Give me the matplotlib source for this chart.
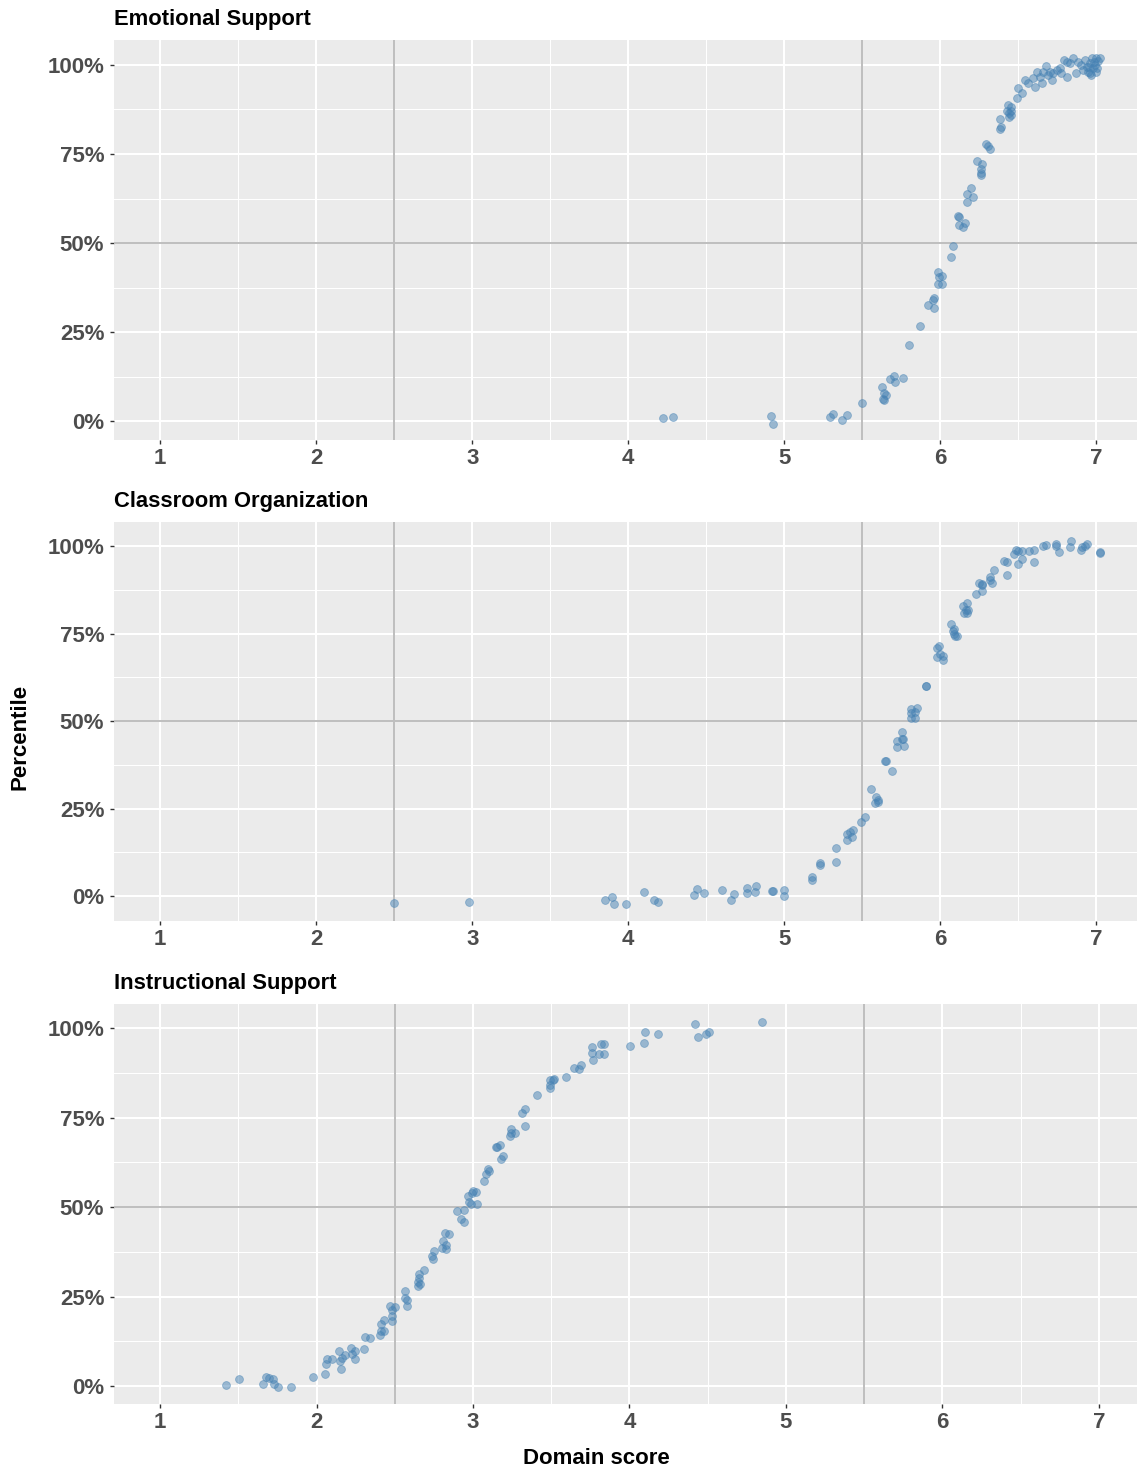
import matplotlib
matplotlib.use("Agg")
import matplotlib.pyplot as plt
import numpy as np
from matplotlib.ticker import FixedLocator, FuncFormatter

plt.rcParams['font.family'] = ['Liberation Sans', 'DejaVu Sans']

# Domain names
domains = ["Emotional Support", "Classroom Organization", "Instructional Support"]

# Emotional Support: domain score vs percentile
es_x = [4.225, 4.285, 4.914, 4.925, 5.29, 5.31, 5.37, 5.40, 5.50, 5.623, 5.64, 5.65,
        5.634, 5.638, 5.68, 5.70, 5.71, 5.76, 5.80, 5.87, 5.92, 5.95, 5.96, 5.96,
        5.987, 5.99, 6.01, 5.987, 6.01, 6.07, 6.08, 6.115, 6.12, 6.12, 6.155, 6.145,
        6.195, 6.17, 6.212, 6.173, 6.237, 6.26, 6.26, 6.258, 6.27, 6.293, 6.308, 6.318,
        6.38, 6.387, 6.38, 6.435, 6.45, 6.43, 6.44, 6.45, 6.443, 6.455,
        6.49, 6.50, 6.52, 6.543, 6.564, 6.596, 6.606, 6.617, 6.638, 6.65, 6.66, 6.68,
        6.69, 6.70, 6.713, 6.72, 6.745, 6.766, 6.77, 6.79, 6.81, 6.81, 6.83, 6.85,
        6.87, 6.88, 6.904, 6.915, 6.93, 6.94, 6.947, 6.957, 6.96, 6.974, 6.98, 6.99,
        7.0, 7.01, 7.02, 6.996, 6.968, 6.955, 6.985, 7.005]
es_y = [0.009, 0.011, 0.014, -0.007, 0.011, 0.020, 0.004, 0.017, 0.052, 0.095, 0.078, 0.073,
        0.061, 0.059, 0.117, 0.128, 0.111, 0.121, 0.214, 0.266, 0.325, 0.341, 0.345, 0.318,
        0.419, 0.404, 0.408, 0.385, 0.385, 0.462, 0.493, 0.575, 0.573, 0.552, 0.557, 0.546,
        0.655, 0.638, 0.629, 0.614, 0.731, 0.709, 0.697, 0.692, 0.721, 0.777, 0.772, 0.764,
        0.847, 0.826, 0.819, 0.887, 0.883, 0.870, 0.864, 0.870, 0.854, 0.859,
        0.906, 0.934, 0.920, 0.958, 0.950, 0.963, 0.939, 0.981, 0.965, 0.949, 0.981, 0.997,
        0.972, 0.981, 0.958, 0.977, 0.986, 0.991, 0.977, 1.014, 1.009, 0.967, 1.005, 1.019,
        0.977, 1.009, 1.000, 0.986, 1.014, 0.995, 0.981, 0.977, 1.005, 1.019, 0.991, 1.000,
        1.019, 1.012, 1.019, 0.981, 0.972, 0.995, 1.008, 0.990]

# Classroom Organization: domain score vs percentile
co_x = [2.50, 2.98, 3.85, 3.897, 3.91, 3.985, 4.10, 4.167, 4.19, 4.42, 4.44, 4.485,
        4.60, 4.66, 4.68, 4.76, 4.76, 4.81, 4.82, 4.92, 4.925, 4.996, 4.998,
        5.18, 5.18, 5.227, 5.23, 5.33, 5.33, 5.40, 5.40, 5.42, 5.435, 5.44, 5.49, 5.52,
        5.557, 5.58, 5.59, 5.60, 5.60, 5.645, 5.65, 5.687, 5.72, 5.72, 5.755, 5.757,
        5.76, 5.77, 5.81, 5.81, 5.81, 5.84, 5.84, 5.85, 5.91, 5.91, 5.98, 5.99,
        5.98, 6.00, 6.02, 6.02, 6.07, 6.08, 6.085, 6.094, 6.105, 6.09, 6.147, 6.17,
        6.166, 6.15, 6.17, 6.18, 6.23, 6.25, 6.265, 6.265, 6.27, 6.32, 6.32, 6.33,
        6.345, 6.41, 6.426, 6.43, 6.47, 6.486, 6.50, 6.52, 6.50, 6.52, 6.57, 6.60,
        6.60, 6.66, 6.68, 6.74, 6.74, 6.76, 6.83, 6.84, 6.90, 6.91, 6.93, 6.94,
        7.02, 7.02]
co_y = [-0.020, -0.018, -0.010, -0.002, -0.021, -0.023, 0.012, -0.012, -0.018, 0.003, 0.021, 0.009,
        0.018, -0.011, 0.006, 0.023, 0.008, 0.013, 0.029, 0.015, 0.016, 0.019, 0.000,
        0.056, 0.045, 0.095, 0.089, 0.098, 0.137, 0.178, 0.161, 0.182, 0.168, 0.189, 0.213, 0.227,
        0.306, 0.265, 0.284, 0.275, 0.270, 0.387, 0.387, 0.358, 0.425, 0.444, 0.468, 0.449,
        0.449, 0.430, 0.534, 0.522, 0.510, 0.525, 0.508, 0.539, 0.601, 0.601, 0.710, 0.715,
        0.684, 0.691, 0.686, 0.675, 0.779, 0.758, 0.748, 0.743, 0.743, 0.762, 0.829, 0.838,
        0.819, 0.810, 0.810, 0.819, 0.864, 0.895, 0.888, 0.872, 0.893, 0.902, 0.912, 0.894,
        0.933, 0.959, 0.955, 0.919, 0.978, 0.988, 0.986, 0.986, 0.950, 0.962, 0.986, 0.988,
        0.954, 1.000, 1.003, 1.007, 1.000, 0.984, 0.997, 1.014, 0.988, 0.997, 1.000, 1.007,
        0.984, 0.980]

# Instructional Support: domain score vs percentile
is_x = [1.42, 1.506, 1.66, 1.677, 1.694, 1.724, 1.73, 1.756, 1.84, 1.98, 2.056, 2.06,
        2.065, 2.097, 2.144, 2.15, 2.155, 2.165, 2.18, 2.22, 2.225, 2.245, 2.246, 2.306,
        2.31, 2.344, 2.404, 2.41, 2.415, 2.43, 2.434, 2.47, 2.48, 2.48, 2.485, 2.50,
        2.564, 2.566, 2.58, 2.58, 2.647, 2.65, 2.653, 2.657, 2.66, 2.69, 2.737, 2.75,
        2.747, 2.80, 2.81, 2.82, 2.83, 2.83, 2.845, 2.90, 2.926, 2.94, 2.943, 2.967,
        2.975, 2.99, 2.995, 3.003, 3.016, 3.024, 3.07, 3.084, 3.095, 3.10, 3.144, 3.152,
        3.17, 3.18, 3.19, 3.237, 3.24, 3.24, 3.27, 3.31, 3.33, 3.33, 3.41, 3.49,
        3.49, 3.49, 3.51, 3.52, 3.596, 3.643, 3.68, 3.69, 3.76, 3.76, 3.766, 3.805,
        3.82, 3.837, 3.835, 4.005, 4.09, 4.10, 4.18, 4.42, 4.44, 4.49, 4.51, 4.845]
is_y = [0.002, 0.019, 0.007, 0.025, 0.023, 0.021, 0.005, -0.002, -0.002, 0.026, 0.035, 0.063,
        0.076, 0.075, 0.098, 0.070, 0.049, 0.079, 0.086, 0.107, 0.090, 0.075, 0.098, 0.103,
        0.138, 0.135, 0.142, 0.154, 0.173, 0.154, 0.185, 0.224, 0.196, 0.182, 0.212, 0.222,
        0.266, 0.247, 0.241, 0.223, 0.280, 0.292, 0.314, 0.303, 0.286, 0.324, 0.364, 0.378,
        0.354, 0.385, 0.404, 0.427, 0.394, 0.384, 0.426, 0.490, 0.466, 0.457, 0.493, 0.532,
        0.513, 0.508, 0.539, 0.546, 0.541, 0.508, 0.573, 0.592, 0.606, 0.602, 0.669, 0.667,
        0.672, 0.633, 0.643, 0.698, 0.718, 0.707, 0.706, 0.762, 0.774, 0.727, 0.813, 0.856,
        0.840, 0.833, 0.856, 0.858, 0.863, 0.889, 0.886, 0.897, 0.947, 0.931, 0.912, 0.926,
        0.956, 0.956, 0.928, 0.949, 0.959, 0.988, 0.982, 1.010, 0.976, 0.984, 0.988, 1.018]

panel_data = [(es_x, es_y), (co_x, co_y), (is_x, is_y)]

x_ticks = [1, 2, 3, 4, 5, 6, 7]
x_minor = [1.5, 2.5, 3.5, 4.5, 5.5, 6.5]
y_ticks = [0.0, 0.25, 0.5, 0.75, 1.0]
y_minor = [0.125, 0.375, 0.625, 0.875]
cut_x = [2.5, 5.5]
cut_y = [0.5]

xlims = [(0.705, 7.26), (0.705, 7.26), (0.706, 7.243)]
ylims = [(-0.053, 1.070), (-0.071, 1.069), (-0.050, 1.067)]

W, H = 1138, 1473
fig = plt.figure(figsize=(W / 100, H / 100), dpi=100)

# panel boxes in pixels: (left, top, right, bottom)
boxes = [(114, 40, 1137, 440), (114, 522, 1137, 921), (114, 1004, 1137, 1404)]

bg = "#EBEBEB"
pt_color = "#4682B4"
ref_color = "#BEBEBE"
tick_col = "#4D4D4D"

for (l, t, r, b), name, (xs, ys), xl, yl in zip(boxes, domains, panel_data, xlims, ylims):
    ax = fig.add_axes([l / W, 1 - b / H, (r - l) / W, (b - t) / H])
    ax.set_facecolor(bg)
    for s in ax.spines.values():
        s.set_visible(False)
    ax.set_xlim(*xl)
    ax.set_ylim(*yl)

    ax.xaxis.set_major_locator(FixedLocator(x_ticks))
    ax.xaxis.set_minor_locator(FixedLocator(x_minor))
    ax.yaxis.set_major_locator(FixedLocator(y_ticks))
    ax.yaxis.set_minor_locator(FixedLocator(y_minor))
    ax.yaxis.set_major_formatter(FuncFormatter(lambda v, p: f"{v * 100:.0f}%"))
    ax.xaxis.set_major_formatter(FuncFormatter(lambda v, p: f"{v:g}"))

    ax.grid(which="major", color="white", linewidth=1.5, zorder=0)
    ax.grid(which="minor", color="white", linewidth=0.75, zorder=0)
    ax.set_axisbelow(True)

    ax.tick_params(which="major", length=3, width=1.0, color="#333333",
                   labelcolor=tick_col, labelsize=16, pad=3)
    ax.tick_params(axis="y", which="major", pad=4)
    ax.tick_params(which="minor", length=0)
    for lab in ax.get_xticklabels() + ax.get_yticklabels():
        lab.set_fontweight("bold")

    for cx in cut_x:
        ax.axvline(cx, color=ref_color, linewidth=1.4, zorder=1)
    for cy in cut_y:
        ax.axhline(cy, color=ref_color, linewidth=1.4, zorder=1)

    ax.scatter(xs, ys, s=32, color=pt_color, alpha=0.5, edgecolors=pt_color,
               linewidths=0.6, zorder=3)

    ax.annotate(name, xy=(0, 1), xycoords="axes fraction", xytext=(0, 10.5),
                textcoords="offset points", ha="left", va="baseline",
                fontsize=15.8, fontweight="bold", color="black")

fig.text(20 / W, 1 - 737 / H, "Percentile", rotation=90, ha="center", va="center",
         fontsize=16, fontweight="bold", color="black")
fig.text(596 / W, 1 - 1459 / H, "Domain score", ha="center", va="center",
         fontsize=16, fontweight="bold", color="black")

fig.savefig("out.png", dpi=100, facecolor="white")
